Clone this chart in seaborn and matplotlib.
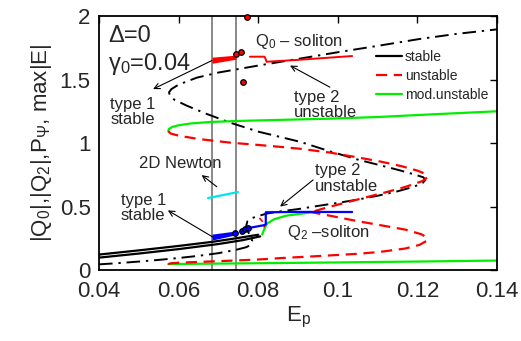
import matplotlib
matplotlib.use("Agg")
import matplotlib.pyplot as plt
from matplotlib.lines import Line2D
import seaborn as sns

# ---- data: branches of the soliton bifurcation diagram (E_p, amplitude) ----
# Q0 soliton family, full S-shaped branch (dash-dot)
q0_E = [0.040, 0.045, 0.050, 0.055, 0.060, 0.065, 0.070, 0.0745, 0.0770, 0.0782,
        0.0785, 0.0780, 0.0773, 0.0770, 0.0773, 0.0785, 0.0805, 0.0822, 0.0855,
        0.090, 0.095, 0.1006, 0.105, 0.110, 0.115, 0.119, 0.1213, 0.1220, 0.1215,
        0.119, 0.115, 0.110, 0.105, 0.098, 0.0905, 0.080, 0.073, 0.067, 0.062,
        0.0590, 0.0578, 0.0576, 0.0582, 0.060, 0.0646, 0.070, 0.080, 0.0905,
        0.100, 0.110, 0.1207, 0.130, 0.140]
q0_Y = [0.045, 0.055, 0.067, 0.080, 0.095, 0.112, 0.133, 0.160, 0.180, 0.200,
        0.230, 0.270, 0.310, 0.350, 0.385, 0.410, 0.430, 0.445, 0.462,
        0.480, 0.505, 0.532, 0.555, 0.585, 0.620, 0.655, 0.685, 0.710, 0.730,
        0.755, 0.790, 0.830, 0.870, 0.935, 1.010, 1.090, 1.160, 1.230, 1.295,
        1.340, 1.370, 1.400, 1.425, 1.460, 1.515, 1.555, 1.610, 1.665,
        1.715, 1.765, 1.820, 1.860, 1.895]

# stable branches (solid black)
stab1_E = [0.040, 0.050, 0.060, 0.0684, 0.0744, 0.0800]
stab1_Y = [0.122, 0.155, 0.190, 0.222, 0.250, 0.278]
stab2_E = [0.040, 0.050, 0.060, 0.070, 0.0760, 0.0805]
stab2_Y = [0.098, 0.130, 0.165, 0.205, 0.235, 0.265]

# modulationally unstable branches (green)
mu_up_E = [0.0574, 0.0576, 0.0585, 0.0600, 0.0630, 0.068, 0.075, 0.085, 0.098, 0.110, 0.125, 0.140]
mu_up_Y = [1.094, 1.112, 1.128, 1.140, 1.154, 1.166, 1.174, 1.182, 1.192, 1.205, 1.228, 1.250]
mu_lo_E = [0.0574, 0.0600, 0.070, 0.080, 0.090, 0.100, 0.110, 0.120, 0.130, 0.140]
mu_lo_Y = [0.047, 0.048, 0.051, 0.054, 0.057, 0.060, 0.064, 0.067, 0.071, 0.075]
mu_mid_E = [0.0810, 0.0815, 0.0822, 0.0840, 0.0870, 0.0935]
mu_mid_Y = [0.280, 0.320, 0.365, 0.400, 0.428, 0.455]

# unstable branches (red dashed)
un_up_E = [0.0574, 0.0580, 0.0600, 0.065, 0.073, 0.080, 0.0855, 0.0905, 0.098, 0.105,
           0.1106, 0.116, 0.120, 0.1222, 0.1225, 0.1212, 0.117, 0.112, 0.107, 0.1006,
           0.097, 0.0935]
un_up_Y = [1.094, 1.075, 1.058, 1.032, 1.003, 0.985, 0.970, 0.955, 0.925, 0.887,
           0.855, 0.818, 0.783, 0.755, 0.730, 0.700, 0.655, 0.612, 0.572, 0.520,
           0.490, 0.458]
un_lo_E = [0.0574, 0.0580, 0.0600, 0.065, 0.070, 0.080, 0.0855, 0.095, 0.105, 0.1106,
           0.117, 0.1205, 0.1222, 0.1224, 0.1210, 0.117, 0.1106, 0.105, 0.098, 0.0935]
un_lo_Y = [0.047, 0.053, 0.058, 0.064, 0.070, 0.083, 0.094, 0.110, 0.128, 0.143,
           0.170, 0.198, 0.228, 0.255, 0.282, 0.318, 0.354, 0.385, 0.428, 0.455]
un_hook_E = [0.0803, 0.0810, 0.0815, 0.0815]
un_hook_Y = [0.410, 0.385, 0.360, 0.335]

# numerically traced families
blue_E = [0.0774, 0.0800, 0.0817, 0.0819, 0.0819, 0.0900, 0.1036]
blue_Y = [0.330, 0.345, 0.355, 0.360, 0.455, 0.458, 0.457]
red_sol_E = [0.0779, 0.0815, 0.0817, 0.0821, 0.0900, 0.1036]
red_sol_Y = [1.680, 1.680, 1.675, 1.640, 1.655, 1.685]
newton_E = [0.0674, 0.0749]
newton_Y = [0.567, 0.614]

# dense sets of stable type-1 solutions
band_E = [0.0684, 0.0744]
blue_band_lo = [0.236, 0.278]
blue_band_hi = [0.283, 0.308]
red_band_lo = [1.628, 1.660]
red_band_hi = [1.676, 1.692]

blue_pts_E = [0.0742, 0.0759, 0.0767, 0.0774]
blue_pts_Y = [0.290, 0.307, 0.320, 0.330]
red_pts_E = [0.0744, 0.0757, 0.0762, 0.0773]
red_pts_Y = [1.700, 1.720, 1.480, 1.990]

vlines_E = [0.0684, 0.0744]

x_ticks = [0.04, 0.06, 0.08, 0.10, 0.12, 0.14]
x_tick_labels = ["0.04", "0.06", "0.08", "0.1", "0.12", "0.14"]
y_ticks = [0, 0.5, 1, 1.5, 2]
y_tick_labels = ["0", "0.5", "1", "1.5", "2"]

legend_labels = ["stable", "unstable", "mod.unstable"]

# ---- style ----
sns.set_theme(style="white")
plt.rcParams["font.family"] = ["Liberation Sans", "DejaVu Sans"]
plt.rcParams["mathtext.fontset"] = "custom"
plt.rcParams["mathtext.rm"] = "Liberation Sans"
plt.rcParams["mathtext.it"] = "Liberation Sans:italic"
plt.rcParams["mathtext.default"] = "regular"

TXT = "#262626"
GREEN = "#00ee00"
RED = "#ff0000"
BLUE = "#0000ff"

fig = plt.figure(figsize=(5.21, 3.41), dpi=100)
ax = fig.add_axes([0.190, 0.208, 0.764, 0.745])


def curve(E, Y, **kw):
    sns.lineplot(x=E, y=Y, sort=False, estimator=None, ax=ax, legend=False, **kw)


for xv in vlines_E:
    ax.axvline(xv, color="#808080", lw=1.3, zorder=1)

curve(q0_E, q0_Y, color="black", lw=1.4, linestyle=(0, (7, 3, 1.2, 3)))
curve(stab1_E, stab1_Y, color="black", lw=1.6)
curve(stab2_E, stab2_Y, color="black", lw=1.6)
curve(mu_up_E, mu_up_Y, color=GREEN, lw=1.6)
curve(mu_lo_E, mu_lo_Y, color=GREEN, lw=1.6)
curve(mu_mid_E, mu_mid_Y, color=GREEN, lw=1.6)
curve(un_up_E, un_up_Y, color=RED, lw=1.6, linestyle=(0, (5, 3)))
curve(un_lo_E, un_lo_Y, color=RED, lw=1.6, linestyle=(0, (5, 3)))
curve(un_hook_E, un_hook_Y, color=RED, lw=1.2, linestyle=(0, (3, 2)))
curve(blue_E, blue_Y, color=BLUE, lw=1.6)
curve(red_sol_E, red_sol_Y, color=RED, lw=1.4)
curve(newton_E, newton_Y, color="#00e5ee", lw=1.6)

ax.fill_between(band_E, blue_band_lo, blue_band_hi, color=BLUE, lw=0, zorder=3)
ax.fill_between(band_E, red_band_lo, red_band_hi, color=RED, lw=0, zorder=3)
sns.scatterplot(x=blue_pts_E, y=blue_pts_Y, ax=ax, color=BLUE, edgecolor="black",
                s=16, linewidth=0.9, zorder=4, legend=False)
sns.scatterplot(x=red_pts_E, y=red_pts_Y, ax=ax, color=RED, edgecolor="black",
                s=16, linewidth=0.9, zorder=4, legend=False, clip_on=False)

# ---- annotations ----
arrow = dict(arrowstyle="->", lw=0.8, color="black", shrinkA=0, shrinkB=0,
             mutation_scale=10)
ax.text(0.0423, 1.84, "Δ=0", fontsize=17, color=TXT, va="center", ha="left")
ax.text(0.0423, 1.62, r"$\gamma_0$=0.04", fontsize=17, color=TXT, va="center", ha="left")
ax.text(0.0792, 1.80, r"Q$_0$ – soliton", fontsize=12, color=TXT, va="center", ha="left")
ax.text(0.0428, 1.245, "type 1\nstable", fontsize=12, color=TXT, va="center", ha="left",
        linespacing=1.05)
ax.text(0.0890, 1.30, "type 2\nunstable", fontsize=12, color=TXT, va="center", ha="left",
        linespacing=1.05)
ax.text(0.0500, 0.84, "2D Newton", fontsize=12, color=TXT, va="center", ha="left")
ax.text(0.0455, 0.49, "type 1\nstable", fontsize=12, color=TXT, va="center", ha="left",
        linespacing=1.05)
ax.text(0.0943, 0.72, "type 2\nunstable", fontsize=12, color=TXT, va="center", ha="left",
        linespacing=1.05)
ax.text(0.0872, 0.295, r"Q$_2$ –soliton", fontsize=12, color=TXT, va="center", ha="left")

ax.annotate("", xy=(0.0536, 1.425), xytext=(0.0684, 1.650), arrowprops=arrow)
ax.annotate("", xy=(0.0880, 1.610), xytext=(0.0980, 1.440), arrowprops=arrow)
ax.annotate("", xy=(0.0658, 0.748), xytext=(0.0696, 0.656), arrowprops=arrow)
ax.annotate("", xy=(0.0573, 0.470), xytext=(0.0686, 0.260), arrowprops=arrow)
ax.annotate("", xy=(0.0855, 0.500), xytext=(0.0938, 0.710), arrowprops=arrow)

# ---- legend ----
handles = [Line2D([], [], color="black", lw=1.6),
           Line2D([], [], color=RED, lw=1.6, linestyle=(0, (5, 3))),
           Line2D([], [], color=GREEN, lw=1.6)]
ax.legend(handles, legend_labels, loc="upper left", bbox_to_anchor=(0.695, 0.865),
          frameon=False, fontsize=10, handlelength=1.9, handletextpad=0.2,
          labelspacing=0.35, borderpad=0, borderaxespad=0)

# ---- axes ----
ax.set_xlim(0.04, 0.14)
ax.set_ylim(0, 2)
ax.set_xticks(x_ticks, x_tick_labels)
ax.set_yticks(y_ticks, y_tick_labels)
ax.tick_params(direction="in", top=True, right=True, length=5, width=1,
               labelsize=16, colors="black", labelcolor=TXT)
ax.tick_params(axis="x", pad=8)
ax.tick_params(axis="y", pad=6)
for sp in ax.spines.values():
    sp.set_color("black")
    sp.set_linewidth(1.3)
ax.set_xlabel(r"E$_p$", fontsize=16, color=TXT, labelpad=2)
ax.set_ylabel(r"|Q$_0$|,|Q$_2$|,P$_\Psi$, max|E|", fontsize=16, color=TXT, labelpad=4)

fig.savefig("out.png", dpi=100)
